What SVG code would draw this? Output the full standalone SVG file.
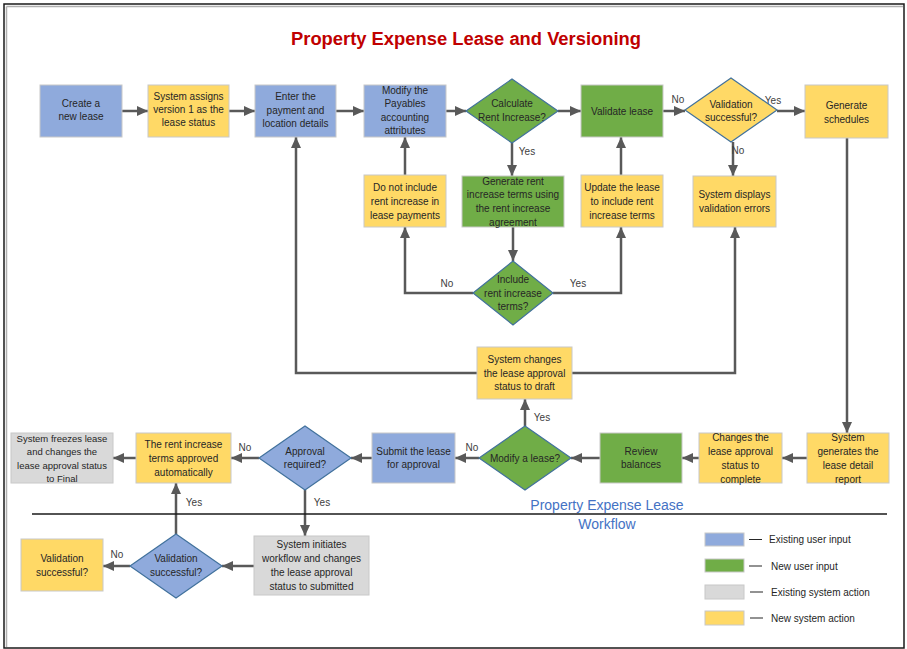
<svg xmlns="http://www.w3.org/2000/svg" width="907" height="649" viewBox="0 0 907 649">
<style>
.t{font-family:"Liberation Sans",Arial,sans-serif;font-size:10px;fill:#262626;text-anchor:middle}
.s{font-size:9.5px}
.lb{font-family:"Liberation Sans",Arial,sans-serif;font-size:10px;fill:#404040;text-anchor:middle}
.lg{font-family:"Liberation Sans",Arial,sans-serif;font-size:10px;fill:#262626}
.blue{fill:#8faadc;stroke:#c8c8c8;stroke-width:1}
.yel{fill:#ffd966;stroke:#c8c8c8;stroke-width:1}
.grn{fill:#70ad47;stroke:#c8c8c8;stroke-width:1}
.gry{fill:#d9d9d9;stroke:#c8c8c8;stroke-width:1}
.dg{fill:#70ad47;stroke:#41719c;stroke-width:1.2}
.db{fill:#8faadc;stroke:#41719c;stroke-width:1.2}
.dy{fill:#ffd966;stroke:#41719c;stroke-width:1.2}
.c{fill:none;stroke:#595959;stroke-width:2.5;marker-end:url(#ah)}
</style>
<defs>
<marker id="ah" markerUnits="userSpaceOnUse" markerWidth="11" markerHeight="10" viewBox="0 0 11 10" refX="11" refY="5" orient="auto">
<path d="M0,0 L11,5 L0,10 z" fill="#595959"/>
</marker>
</defs>
<rect x="0" y="0" width="907" height="649" fill="#ffffff"/>
<rect x="4" y="4" width="900" height="644" fill="none" stroke="#1a1a1a" stroke-width="1.5"/>
<path d="M6.5,6.5 H903 M6.5,6.5 V647" fill="none" stroke="#b0b0b0" stroke-width="1.5"/>
<text x="466" y="45" style="font-family:'Liberation Sans',Arial,sans-serif;font-size:18px;font-weight:bold;fill:#c00000;text-anchor:middle" textLength="350" lengthAdjust="spacingAndGlyphs">Property Expense Lease and Versioning</text>

<g id="connectors">
<path class="c" d="M122,111 H148"/>
<path class="c" d="M229,111 H255"/>
<path class="c" d="M336,111 H364"/>
<path class="c" d="M446,111 H466"/>
<path class="c" d="M558,111 H581"/>
<path class="c" d="M663,111 H685"/>
<path class="c" d="M777,111 H805"/>
<path class="c" d="M733,142 V176"/>
<path class="c" d="M512,143 V176"/>
<path class="c" d="M513,227 V261"/>
<path class="c" d="M473,293 H405 V227"/>
<path class="c" d="M553,293 H621 V227"/>
<path class="c" d="M405,175 V137"/>
<path class="c" d="M621,175 V137"/>
<path class="c" d="M847,138 V433"/>
<path class="c" d="M807,458 H782"/>
<path class="c" d="M699,458 H682"/>
<path class="c" d="M600,458 H571"/>
<path class="c" d="M525,426 V399"/>
<path class="c" d="M479,458 H455"/>
<path class="c" d="M372,458 H351"/>
<path class="c" d="M259,458 H231"/>
<path class="c" d="M136,458 H113"/>
<path class="c" d="M305,490 V536"/>
<path class="c" d="M254,566 H222"/>
<path class="c" d="M176,534 V483"/>
<path class="c" d="M130,566 H103"/>
<path class="c" d="M477,373 H296 V137"/>
<path class="c" d="M572,373 H735 V227"/>
<text class="lb" x="678" y="103">No</text>
<text class="lb" x="773" y="104">Yes</text>
<text class="lb" x="738" y="154">No</text>
<text class="lb" x="527" y="155">Yes</text>
<text class="lb" x="447" y="287">No</text>
<text class="lb" x="578" y="287">Yes</text>
<text class="lb" x="542" y="421">Yes</text>
<text class="lb" x="472" y="451">No</text>
<text class="lb" x="245" y="451">No</text>
<text class="lb" x="194" y="506">Yes</text>
<text class="lb" x="322" y="506">Yes</text>
<text class="lb" x="117" y="558">No</text>
</g>

<g id="n1"><rect class="blue" x="40" y="85" width="82" height="52"/><text class="t" x="81" y="107">Create a</text><text class="t" x="81" y="120">new lease</text></g>
<g id="n2"><rect class="yel" x="148" y="85" width="81" height="52"/><text class="t" x="188.5" y="99.5">System assigns</text><text class="t" x="188.5" y="112.5">version 1 as the</text><text class="t" x="188.5" y="125.5">lease status</text></g>
<g id="n3"><rect class="blue" x="255" y="85" width="81" height="52"/><text class="t" x="295.5" y="100">Enter the</text><text class="t" x="295.5" y="113.5">payment and</text><text class="t" x="295.5" y="127">location details</text></g>
<g id="n4"><rect class="blue" x="364" y="85" width="82" height="52"/><text class="t" x="405" y="93.5">Modify the</text><text class="t" x="405" y="107">Payables</text><text class="t" x="405" y="120.5">accounting</text><text class="t" x="405" y="134">attributes</text></g>
<g id="n5"><polygon class="dg" points="466,111 512,79 558,111 512,143"/><text class="t" x="512" y="106.5">Calculate</text><text class="t" x="512" y="120.5">Rent Increase?</text></g>
<g id="n6"><rect class="grn" x="581" y="85" width="82" height="52"/><text class="t" x="622" y="114.5">Validate lease</text></g>
<g id="n7"><polygon class="dy" points="685,110 731,78 777,110 731,142"/><text class="t" x="731" y="107.5">Validation</text><text class="t" x="731" y="120.5">successful?</text></g>
<g id="n8"><rect class="yel" x="805" y="85" width="83" height="53"/><text class="t" x="846.5" y="108.5">Generate</text><text class="t" x="846.5" y="122.5">schedules</text></g>
<g id="n9"><rect class="yel" x="364" y="175" width="82" height="52"/><text class="t" x="405" y="190.5">Do not include</text><text class="t" x="405" y="204.5">rent increase in</text><text class="t" x="405" y="218.5">lease payments</text></g>
<g id="n10"><rect class="grn" x="462" y="176" width="102" height="51"/><text class="t" x="513" y="184.5">Generate rent</text><text class="t" x="513" y="198">increase terms using</text><text class="t" x="513" y="211.5">the rent increase</text><text class="t" x="513" y="225.5">agreement</text></g>
<g id="n11"><rect class="yel" x="581" y="175" width="82" height="52"/><text class="t" x="622" y="190.5">Update the lease</text><text class="t" x="622" y="204.5">to include rent</text><text class="t" x="622" y="218.5">increase terms</text></g>
<g id="n12"><rect class="yel" x="693" y="176" width="83" height="51"/><text class="t" x="734.5" y="197.5">System displays</text><text class="t" x="734.5" y="211.5">validation errors</text></g>
<g id="n13"><polygon class="dg" points="473,293 513,261 553,293 513,325"/><text class="t" x="513" y="282.5">Include</text><text class="t" x="513" y="296.5">rent increase</text><text class="t" x="513" y="309.5">terms?</text></g>
<g id="n14"><rect class="yel" x="477" y="347" width="95" height="52"/><text class="t" x="524.5" y="363">System changes</text><text class="t" x="524.5" y="376.5">the lease approval</text><text class="t" x="524.5" y="390">status to draft</text></g>
<g id="n15"><rect class="yel" x="807" y="433" width="82" height="50"/><text class="t" x="848" y="440.5">System</text><text class="t" x="848" y="454.5">generates the</text><text class="t" x="848" y="468.5">lease detail</text><text class="t" x="848" y="482.5">report</text></g>
<g id="n16"><rect class="yel" x="699" y="433" width="83" height="50"/><text class="t" x="740.5" y="440.5">Changes the</text><text class="t" x="740.5" y="454.5">lease approval</text><text class="t" x="740.5" y="468.5">status to</text><text class="t" x="740.5" y="482.5">complete</text></g>
<g id="n17"><rect class="grn" x="600" y="433" width="82" height="50"/><text class="t" x="641" y="454.5">Review</text><text class="t" x="641" y="467.5">balances</text></g>
<g id="n18"><polygon class="dg" points="479,458 525,426 571,458 525,490"/><text class="t" x="525" y="461.5">Modify a lease?</text></g>
<g id="n19"><rect class="blue" x="372" y="433" width="83" height="50"/><text class="t" x="413.5" y="454.5">Submit the lease</text><text class="t" x="413.5" y="467.5">for approval</text></g>
<g id="n20"><polygon class="db" points="259,458 305,426 351,458 305,490"/><text class="t" x="305" y="454.5">Approval</text><text class="t" x="305" y="467.5">required?</text></g>
<g id="n21"><rect class="yel" x="136" y="433" width="95" height="50"/><text class="t" x="183.5" y="447.5">The rent increase</text><text class="t" x="183.5" y="461.5">terms approved</text><text class="t" x="183.5" y="475.5">automatically</text></g>
<g id="n22"><rect class="gry" x="11" y="433" width="102" height="50"/><text class="t s" x="62" y="441.5">System freezes lease</text><text class="t s" x="62" y="455">and changes the</text><text class="t s" x="62" y="468.5">lease approval status</text><text class="t s" x="62" y="482">to Final</text></g>
<g id="n23"><rect class="gry" x="254" y="536" width="115" height="59"/><text class="t" x="311.5" y="547.5">System initiates</text><text class="t" x="311.5" y="561.5">workflow and changes</text><text class="t" x="311.5" y="575.5">the lease approval</text><text class="t" x="311.5" y="589.5">status to submitted</text></g>
<g id="n24"><polygon class="db" points="130,566 176,534 222,566 176,598"/><text class="t" x="176" y="561.5">Validation</text><text class="t" x="176" y="575.5">successful?</text></g>
<g id="n25"><rect class="yel" x="21" y="539" width="82" height="52"/><text class="t" x="62" y="561.5">Validation</text><text class="t" x="62" y="575.5">successful?</text></g>

<g id="swimlane">
<line x1="32" y1="514" x2="887" y2="514" stroke="#1a1a1a" stroke-width="1.5"/>
<text x="607" y="510" style="font-family:'Liberation Sans',Arial,sans-serif;font-size:14px;fill:#4472c4;text-anchor:middle">Property Expense Lease</text>
<text x="607" y="529" style="font-family:'Liberation Sans',Arial,sans-serif;font-size:14px;fill:#4472c4;text-anchor:middle">Workflow</text>
</g>

<g id="legend">
<rect class="blue" x="705" y="533" width="39" height="13"/>
<rect class="grn" x="705" y="559" width="39" height="13"/>
<rect class="gry" x="705" y="585" width="39" height="14"/>
<rect class="yel" x="705" y="611" width="39" height="14"/>
<path d="M749,539.5 H762 M749,566 H762 M750,592 H763 M750,618 H763" stroke="#262626" stroke-width="1.2"/>
<text class="lg" x="769" y="543">Existing user input</text>
<text class="lg" x="771" y="569.5">New user input</text>
<text class="lg" x="771" y="595.5">Existing system action</text>
<text class="lg" x="771" y="621.5">New system action</text>
</g>
</svg>
